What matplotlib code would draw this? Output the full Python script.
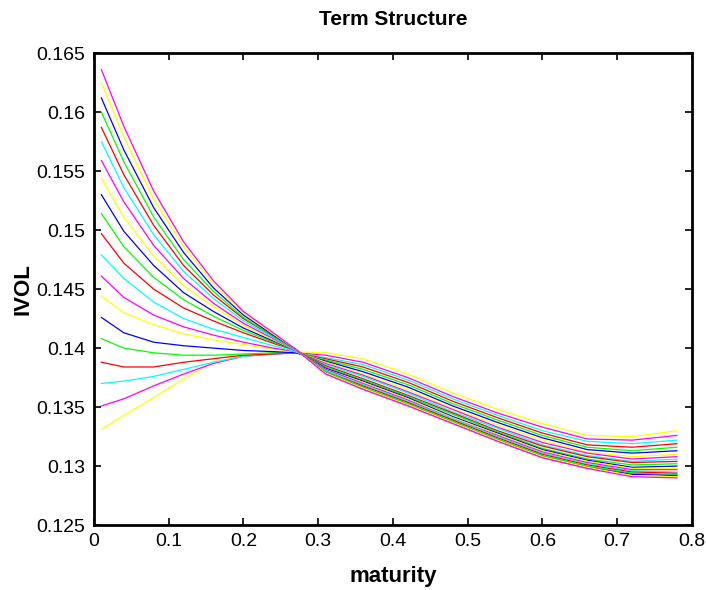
import matplotlib
matplotlib.use("Agg")
import matplotlib.pyplot as plt

maturity = [0.01, 0.04, 0.08, 0.12, 0.16, 0.20, 0.24, 0.27, 0.31,
            0.36, 0.42, 0.48, 0.54, 0.60, 0.66, 0.72, 0.78]

# implied vol curves, bottom-starting curve first
ivol_curves = [
    [.1331, .1343, .1358, .1374, .1388, .1394, .1396, .1397, .1396, .1391, .1378, .1362, .1348, .1336, .1326, .1325, .1330],
    [.1351, .1357, .1368, .1378, .1387, .1393, .1395, .1396, .1394, .1388, .1375, .1359, .1345, .1333, .1323, .1322, .1326],
    [.1370, .1372, .1376, .1382, .1388, .1393, .1395, .1396, .1392, .1386, .1373, .1357, .1343, .1330, .1321, .1319, .1322],
    [.1388, .1384, .1384, .1388, .1391, .1394, .1395, .1396, .1391, .1384, .1371, .1355, .1341, .1328, .1318, .1316, .1319],
    [.1408, .1400, .1396, .1394, .1394, .1395, .1396, .1396, .1390, .1382, .1369, .1353, .1339, .1326, .1316, .1313, .1316],
    [.1426, .1413, .1405, .1402, .1400, .1398, .1397, .1396, .1389, .1380, .1367, .1351, .1337, .1324, .1314, .1311, .1313],
    [.1444, .1430, .1420, .1412, .1407, .1403, .1399, .1397, .1388, .1378, .1365, .1349, .1335, .1322, .1312, .1308, .1310],
    [.1461, .1443, .1428, .1418, .1411, .1405, .1400, .1397, .1387, .1377, .1363, .1348, .1333, .1320, .1311, .1306, .1308],
    [.1479, .1459, .1439, .1425, .1416, .1409, .1402, .1397, .1386, .1376, .1362, .1346, .1332, .1318, .1309, .1304, .1306],
    [.1497, .1472, .1450, .1434, .1423, .1413, .1404, .1398, .1385, .1374, .1360, .1345, .1330, .1317, .1308, .1303, .1304],
    [.1514, .1486, .1460, .1441, .1427, .1415, .1405, .1398, .1384, .1373, .1359, .1344, .1329, .1315, .1306, .1301, .1302],
    [.1530, .1499, .1470, .1447, .1431, .1417, .1406, .1398, .1383, .1372, .1358, .1342, .1328, .1314, .1305, .1299, .1300],
    [.1544, .1511, .1478, .1453, .1435, .1419, .1407, .1398, .1382, .1371, .1357, .1341, .1327, .1313, .1304, .1298, .1298],
    [.1559, .1524, .1487, .1459, .1438, .1421, .1408, .1398, .1382, .1370, .1356, .1340, .1326, .1312, .1303, .1297, .1297],
    [.1575, .1536, .1496, .1465, .1442, .1423, .1409, .1398, .1381, .1369, .1355, .1340, .1325, .1311, .1302, .1296, .1295],
    [.1587, .1547, .1504, .1470, .1445, .1425, .1410, .1399, .1380, .1368, .1354, .1339, .1324, .1310, .1301, .1295, .1294],
    [.1600, .1558, .1511, .1475, .1448, .1426, .1410, .1399, .1380, .1367, .1353, .1338, .1323, .1309, .1300, .1294, .1293],
    [.1612, .1568, .1519, .1481, .1451, .1428, .1411, .1399, .1379, .1366, .1352, .1337, .1322, .1308, .1299, .1293, .1292],
    [.1625, .1579, .1526, .1486, .1454, .1430, .1412, .1399, .1379, .1366, .1352, .1337, .1322, .1308, .1299, .1292, .1291],
    [.1636, .1588, .1533, .1490, .1457, .1431, .1413, .1399, .1378, .1365, .1351, .1336, .1321, .1307, .1298, .1291, .1290],
]

colors = ['#ffff00', '#ff00ff', '#00ffff', '#ff0000', '#00ff00', '#0000ff']

xticks = [0, 0.1, 0.2, 0.3, 0.4, 0.5, 0.6, 0.7, 0.8]
xtick_labels = ['0', '0.1', '0.2', '0.3', '0.4', '0.5', '0.6', '0.7', '0.8']
yticks = [0.125, 0.13, 0.135, 0.14, 0.145, 0.15, 0.155, 0.16, 0.165]
ytick_labels = ['0.125', '0.13', '0.135', '0.14', '0.145', '0.15', '0.155', '0.16', '0.165']

plt.rcParams['font.family'] = ['Liberation Sans', 'DejaVu Sans']

fig = plt.figure(figsize=(7.06, 5.9), dpi=100)
ax = fig.add_axes([0.133, 0.110, 0.847, 0.800])

for i, curve in enumerate(ivol_curves):
    ax.plot(maturity, curve, color=colors[i % len(colors)], lw=0.9)

ax.set_xlim(0, 0.8)
ax.set_ylim(0.125, 0.165)
ax.set_xticks(xticks)
ax.set_xticklabels(xtick_labels)
ax.set_yticks(yticks)
ax.set_yticklabels(ytick_labels)
ax.tick_params(direction='in', top=True, right=True, length=5, width=1.2,
               labelsize=14, pad=6)
for s in ax.spines.values():
    s.set_linewidth(2)

ax.set_title('Term Structure', fontsize=15, fontweight='bold', pad=20)
ax.set_xlabel('maturity', fontsize=16, fontweight='bold', labelpad=11)
ax.set_ylabel('IVOL', fontsize=16, fontweight='bold', labelpad=2)

fig.savefig('out.png', dpi=100)
